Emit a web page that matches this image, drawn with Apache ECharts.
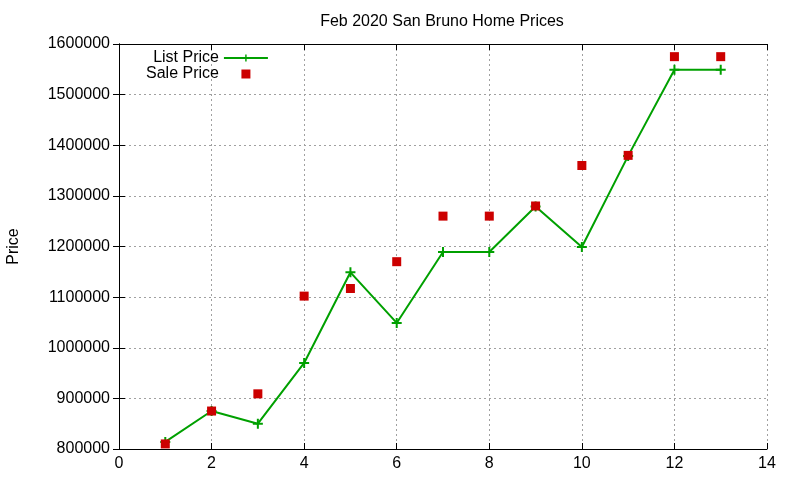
<!DOCTYPE html>
<html>
<head>
<meta charset="utf-8">
<script src="https://cdn.jsdelivr.net/npm/echarts@6/dist/echarts.min.js"></script>
<style>
  html, body { margin: 0; padding: 0; background: #fff; }
  #chart { width: 800px; height: 480px; }
</style>
</head>
<body>
<div id="chart"></div>
<script>
// house index (x) and prices
let houseNo = [1, 2, 3, 4, 5, 6, 7, 8, 9, 10, 11, 12, 13]
let listPrice = [814000, 875000, 850000, 970000, 1149000, 1049000, 1189000, 1189000, 1279000, 1199000, 1379000, 1549000, 1549000]
let salePrice = [810000, 875000, 909000, 1102000, 1117000, 1170000, 1260000, 1260000, 1280000, 1360000, 1380000, 1575000, 1575000]

let plusIcon = 'path://M4,0 L6,0 L6,4 L10,4 L10,6 L6,6 L6,10 L4,10 L4,6 L0,6 L0,4 L4,4 Z'
let squareIcon = 'path://M0,0 L10,0 L10,10 L0,10 Z'
let font = 'Liberation Sans, Arial, sans-serif'

let myChart = echarts.init(document.getElementById('chart'))

let gridLine = { show: true, lineStyle: { color: '#a0a0a0', type: [2, 3], width: 1 } }

let option = {
  backgroundColor: '#fff',
  animation: false,
  title: {
    text: 'Feb 2020 San Bruno Home Prices',
    left: 437,
    top: 9,
    textAlign: 'center',
    textStyle: { fontFamily: font, fontSize: 16, fontWeight: 'normal', color: '#000' }
  },
  legend: {
    left: 141,
    top: 45,
    orient: 'vertical',
    align: 'right',
    itemGap: 0,
    itemWidth: 44,
    itemHeight: 9,
    textStyle: { fontFamily: font, fontSize: 16, color: '#000' },
    data: [
      { name: 'List Price' },
      { name: 'Sale Price', icon: squareIcon }
    ]
  },
  grid: { left: 119, right: 33, top: 44, bottom: 31, outerBoundsMode: 'none' },
  xAxis: [
    {
      type: 'value', min: 0, max: 14, interval: 2,
      axisLine: { show: true, lineStyle: { color: '#000', width: 1 } },
      axisTick: { show: true, inside: true, length: 6, lineStyle: { color: '#000' } },
      axisLabel: { fontFamily: font, fontSize: 16, color: '#000', margin: 7 },
      splitLine: gridLine
    },
    {
      type: 'value', min: 0, max: 14, interval: 2, position: 'top',
      axisLine: { show: true, lineStyle: { color: '#000', width: 1 } },
      axisTick: { show: true, inside: true, length: 6, lineStyle: { color: '#000' } },
      axisLabel: { show: false },
      splitLine: { show: false }
    }
  ],
  yAxis: [
    {
      type: 'value', min: 800000, max: 1600000, interval: 100000,
      name: 'Price', nameLocation: 'middle', nameGap: 97, nameRotate: 90,
      nameTextStyle: { fontFamily: font, fontSize: 16, color: '#000' },
      axisLine: { show: true, lineStyle: { color: '#000', width: 1 } },
      axisTick: { show: true, inside: true, length: 6, lineStyle: { color: '#000' } },
      axisLabel: { fontFamily: font, fontSize: 16, color: '#000', margin: 9, formatter: v => String(v) },
      splitLine: gridLine
    },
    {
      type: 'value', min: 800000, max: 1600000, interval: 100000, position: 'right',
      axisLine: { show: true, lineStyle: { color: '#000', width: 1 } },
      axisTick: { show: true, inside: true, length: 6, lineStyle: { color: '#000' } },
      axisLabel: { show: false },
      splitLine: { show: false }
    }
  ],
  series: [
    {
      name: 'List Price',
      type: 'line',
      data: houseNo.map((x, i) => [x, listPrice[i]]),
      symbol: plusIcon,
      symbolSize: 10,
      showAllSymbol: true,
      itemStyle: { color: '#00a000' },
      lineStyle: { color: '#00a000', width: 2 }
    },
    {
      name: 'Sale Price',
      type: 'scatter',
      data: houseNo.map((x, i) => [x, salePrice[i]]),
      symbol: 'rect',
      symbolSize: 9,
      itemStyle: { color: '#cc0000', opacity: 1 },
      z: 3
    }
  ]
}
myChart.setOption(option)
</script>
</body>
</html>
